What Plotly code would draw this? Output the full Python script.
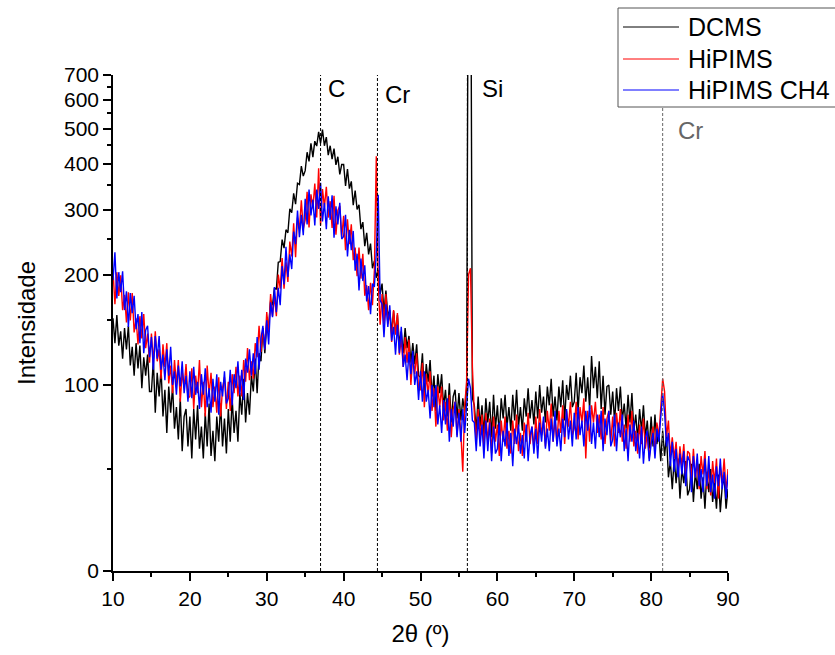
import numpy as np
import plotly.graph_objects as go

# 2-theta sampling grid (degrees), 0.25 deg steps from 10 to 90
two_theta_start = 10.0
two_theta_step = 0.25

dcms = [
    152, 130, 155, 128, 140, 118, 143, 125, 145, 113, 127, 106, 130, 111, 128, 98, 119, 106, 121, 96,
    96, 117, 84, 108, 93, 111, 82, 97, 74, 99, 84, 99, 76, 87, 71, 92, 66, 82, 86, 68,
    82, 63, 86, 71, 88, 67, 77, 63, 84, 68, 89, 64, 75, 62, 82, 70, 89, 68, 81, 65,
    86, 70, 92, 74, 85, 70, 95, 83, 104, 79, 95, 83, 106, 96, 118, 95, 122, 116, 143, 122,
    147, 144, 170, 165, 184, 182, 216, 217, 249, 236, 265, 260, 302, 295, 333, 311, 355, 352, 395, 371,
    384, 431, 407, 456, 418, 462, 448, 490, 456, 497, 449, 474, 423, 449, 413, 441, 398, 419, 375, 399,
    399, 349, 388, 343, 359, 309, 339, 301, 310, 266, 278, 239, 260, 227, 243, 208, 218, 196, 206, 177,
    189, 158, 181, 154, 160, 138, 159, 138, 155, 130, 140, 122, 143, 126, 136, 115, 130, 114, 129, 106,
    105, 122, 95, 114, 102, 117, 93, 106, 85, 107, 95, 107, 87, 97, 82, 101, 79, 93, 97, 81,
    95, 80, 92, 84, 98, 3000, 3000, 92, 88, 75, 93, 77, 88, 73, 92, 79, 90, 72, 94, 76,
    88, 73, 92, 81, 94, 77, 87, 75, 94, 80, 97, 77, 87, 75, 92, 82, 98, 81, 91, 78,
    96, 81, 100, 84, 93, 79, 99, 88, 104, 82, 93, 80, 99, 87, 103, 80, 100, 91, 106, 87,
    90, 108, 85, 105, 95, 113, 90, 105, 86, 120, 98, 112, 92, 116, 86, 106, 83, 99, 100, 83,
    96, 79, 98, 85, 99, 80, 89, 76, 94, 79, 95, 75, 83, 71, 86, 75, 88, 72, 80, 67,
    82, 68, 83, 69, 75, 62, 75, 64, 73, 56, 62, 52, 63, 54, 63, 49, 59, 54, 62, 50,
    52, 61, 48, 58, 52, 61, 49, 56, 46, 58, 51, 59, 48, 54, 46, 57, 45, 53, 56, 46, 52,
]

hipims = [
    205, 166, 203, 175, 199, 160, 176, 148, 179, 150, 178, 139, 152, 129, 154, 134, 156, 126, 138, 115,
    138, 115, 140, 116, 125, 104, 129, 112, 130, 101, 113, 95, 117, 100, 117, 90, 109, 98, 114, 92,
    93, 111, 86, 106, 95, 117, 87, 102, 82, 113, 94, 108, 87, 99, 84, 105, 82, 98, 105, 86,
    102, 85, 107, 95, 112, 93, 106, 93, 117, 102, 126, 103, 116, 104, 130, 119, 145, 123, 142, 125,
    158, 139, 177, 154, 175, 154, 200, 183, 222, 183, 216, 191, 246, 224, 276, 223, 286, 266, 319, 266,
    282, 336, 269, 331, 303, 354, 286, 390, 272, 342, 306, 347, 286, 317, 268, 328, 257, 299, 308, 252,
    289, 233, 283, 242, 274, 219, 237, 198, 237, 195, 228, 175, 187, 160, 190, 165, 205, 420, 190, 146,
    177, 147, 177, 147, 158, 131, 160, 137, 157, 121, 134, 112, 135, 115, 133, 100, 121, 107, 122, 97,
    97, 115, 87, 107, 94, 109, 85, 98, 77, 99, 87, 99, 80, 90, 75, 94, 72, 86, 90, 73,
    86, 74, 58, 88, 102, 200, 208, 112, 84, 70, 86, 72, 83, 68, 84, 70, 81, 65, 82, 70,
    78, 64, 80, 70, 82, 67, 75, 65, 80, 69, 83, 66, 74, 64, 79, 70, 84, 69, 77, 67,
    82, 69, 86, 73, 80, 68, 85, 75, 89, 70, 80, 69, 85, 74, 88, 69, 85, 77, 90, 73,
    76, 90, 71, 87, 79, 92, 63, 85, 70, 88, 79, 90, 74, 83, 71, 87, 69, 81, 85, 70,
    82, 68, 84, 74, 86, 70, 78, 67, 83, 70, 85, 68, 75, 65, 78, 69, 81, 67, 74, 63,
    71, 77, 66, 79, 72, 88, 104, 96, 72, 80, 64, 72, 63, 70, 58, 68, 60, 69, 56, 66,
    65, 55, 67, 56, 61, 52, 64, 57, 66, 52, 59, 50, 62, 54, 63, 49, 60, 54, 63, 51, 59,
]

hipims_ch4 = [
    193, 230, 172, 203, 179, 204, 160, 180, 144, 178, 157, 175, 142, 156, 130, 158, 122, 141, 145, 119,
    135, 110, 136, 118, 136, 110, 121, 103, 125, 106, 127, 100, 109, 94, 113, 99, 116, 95, 106, 90,
    109, 92, 112, 94, 102, 86, 107, 94, 111, 87, 98, 84, 104, 90, 107, 83, 102, 93, 109, 89,
    92, 110, 88, 107, 98, 116, 94, 110, 91, 118, 108, 125, 106, 122, 107, 135, 110, 134, 145, 125,
    150, 129, 168, 153, 185, 158, 184, 165, 211, 188, 238, 197, 227, 207, 262, 242, 299, 253, 291, 256,
    322, 274, 341, 290, 320, 272, 341, 302, 356, 279, 314, 266, 327, 282, 329, 252, 307, 274, 314, 250,
    254, 291, 224, 265, 233, 263, 205, 228, 181, 221, 192, 212, 169, 186, 156, 189, 185, 230, 330, 170,
    166, 135, 166, 144, 165, 132, 144, 121, 146, 122, 144, 112, 121, 103, 123, 107, 124, 100, 109, 91,
    109, 90, 109, 90, 97, 81, 100, 87, 100, 78, 88, 74, 91, 78, 92, 70, 86, 77, 90, 72,
    84, 70, 86, 74, 88, 104, 98, 80, 79, 66, 82, 68, 78, 63, 80, 66, 79, 62, 77, 65,
    67, 79, 62, 75, 68, 79, 64, 74, 60, 76, 69, 78, 65, 73, 63, 78, 62, 73, 77, 65,
    76, 63, 79, 70, 82, 67, 76, 66, 81, 70, 85, 68, 76, 66, 81, 72, 86, 71, 80, 68,
    84, 71, 87, 73, 80, 68, 85, 75, 88, 69, 79, 67, 83, 72, 85, 66, 81, 73, 85, 68,
    71, 83, 66, 79, 72, 83, 66, 76, 62, 78, 70, 80, 66, 74, 63, 77, 61, 72, 75, 62,
    69, 74, 63, 76, 70, 80, 95, 84, 68, 74, 60, 70, 58, 67, 56, 65, 57, 66, 53, 64,
    62, 51, 64, 56, 65, 53, 59, 51, 63, 53, 64, 51, 57, 49, 60, 53, 63, 52, 58, 49, 57,
]

series_names = ["DCMS", "HiPIMS", "HiPIMS CH4"]
series_colors = ["#000000", "#ff0000", "#0000ff"]

# reference peak positions (2theta) and labels
peak_positions = [37.0, 44.4, 56.1, 81.5]
peak_labels = ["C", "Cr", "Si", "Cr"]

x_ticks = [10, 20, 30, 40, 50, 60, 70, 80, 90]
y_tick_vals = [31.1, 100, 200, 300, 400, 500, 600, 700]
y_tick_text = ["0", "100", "200", "300", "400", "500", "600", "700"]
y_minor_vals = [59, 150, 250, 350, 450, 550, 650]

n = len(dcms)
two_theta = two_theta_start + two_theta_step * np.arange(n)

FONT = "Liberation Sans, Arial, sans-serif"

fig = go.Figure()
for name, col, vals in zip(series_names, series_colors, [dcms, hipims, hipims_ch4]):
    fig.add_trace(go.Scatter(x=two_theta, y=vals, mode="lines", name=name,
                             line=dict(color=col, width=1.4), showlegend=False))

# peak reference lines
line_cols = ["#000000", "#000000", "#000000", "#666666"]
for pos, col in zip(peak_positions, line_cols):
    fig.add_shape(type="line", xref="x", yref="paper", x0=pos, x1=pos, y0=0, y1=1,
                  line=dict(color=col, width=1, dash="3px,2px"))

# peak labels
label_x = [37.7, 45.1, 57.7, 83.3]
label_y = [0.972, 0.960, 0.972, 0.889]
label_cols = ["#000000", "#000000", "#000000", "#666666"]
for lab, lx, ly, lc in zip(peak_labels, label_x, label_y, label_cols):
    fig.add_annotation(x=lx, y=ly, xref="x", yref="paper", text=lab, showarrow=False,
                       xanchor="left", yanchor="middle",
                       font=dict(family=FONT, size=24, color=lc))

# manual legend (box partly off canvas as in reference)
L, R, T, B = 113, 107, 75, 84
W, H = 835, 655
pw, ph = W - L - R, H - T - B


def px2x(px):
    return (px - L) / pw


def py2y(py):
    return (H - B - py) / ph


fig.add_shape(type="rect", xref="paper", yref="paper",
              x0=px2x(618), x1=px2x(860), y0=py2y(107), y1=py2y(8),
              line=dict(color="#555555", width=1), fillcolor="white", layer="above")
for i, (name, col) in enumerate(zip(series_names, series_colors)):
    yy = [27, 59, 90][i]
    fig.add_shape(type="line", xref="paper", yref="paper",
                  x0=px2x(623), x1=px2x(679), y0=py2y(yy), y1=py2y(yy),
                  line=dict(color=col, width=1), layer="above")
    fig.add_annotation(x=px2x(686), y=py2y(yy), xref="paper", yref="paper", text=name,
                       showarrow=False, xanchor="left", yanchor="middle",
                       font=dict(family=FONT, size=25, color="#000000"))

fig.update_layout(
    width=W, height=H,
    margin=dict(l=L, r=R, t=T, b=B, pad=0),
    paper_bgcolor="white", plot_bgcolor="white",
    font=dict(family=FONT, color="#000000"),
    showlegend=False,
)
fig.update_xaxes(
    range=[10, 90], tickvals=x_ticks, ticks="outside", ticklen=8, tickwidth=1.5,
    tickcolor="black", showline=True, linecolor="black", linewidth=1.5,
    showgrid=False, zeroline=False, mirror=False,
    tickfont=dict(family=FONT, size=21),
    minor=dict(dtick=5, tick0=0, ticks="outside", ticklen=4, tickwidth=1.5, tickcolor="black"),
    title=dict(text="2θ (º)", font=dict(family=FONT, size=24), standoff=16),
)
fig.update_yaxes(
    type="log", range=[np.log10(31.1), np.log10(700)],
    tickmode="array", tickvals=y_tick_vals, ticktext=y_tick_text,
    ticks="outside", ticklen=8, tickwidth=1.5, tickcolor="black",
    showline=True, linecolor="black", linewidth=1.5,
    showgrid=False, zeroline=False, mirror=False,
    tickfont=dict(family=FONT, size=21),
    minor=dict(tickmode="array", tickvals=y_minor_vals, ticks="outside", ticklen=4,
               tickwidth=1.5, tickcolor="black"),
    title=dict(text="Intensidade", font=dict(family=FONT, size=24), standoff=22),
)

fig.write_html("out.html")
